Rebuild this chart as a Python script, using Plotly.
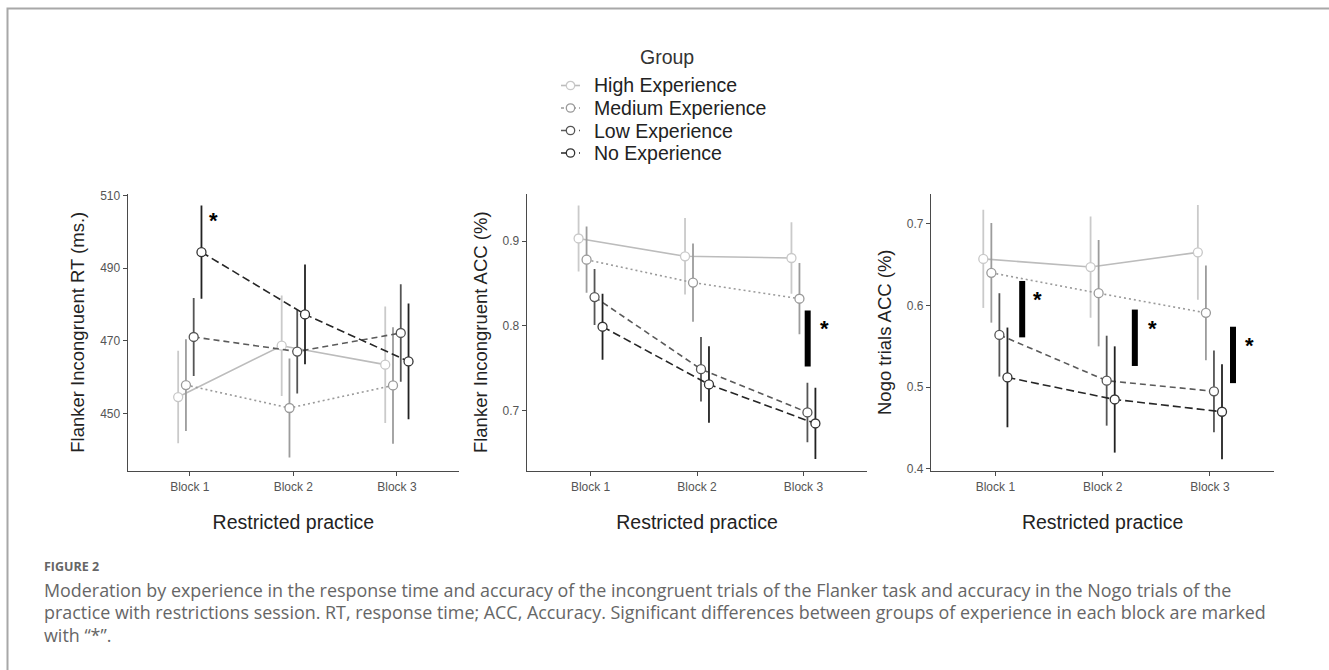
import plotly.graph_objects as go

W, H = 1329, 670

groups = ["High Experience", "Medium Experience", "Low Experience", "No Experience"]
legend_title = "Group"
blocks = ["Block 1", "Block 2", "Block 3"]
block_pos = [1, 2, 3]

# Panel 1: Flanker Incongruent RT (ms.)
rt_high = [454.6, 468.7, 463.5]
rt_med = [457.9, 451.6, 457.8]
rt_low = [471.1, 467.1, 472.2]
rt_no = [494.4, 477.3, 464.4]
rt_high_err = [12.7, 13.8, 16.0]
rt_med_err = [12.6, 13.6, 16.0]
rt_low_err = [10.7, 11.5, 13.4]
rt_no_err = [12.8, 13.7, 15.9]

# Panel 2: Flanker Incongruent ACC (%)
acc_high = [0.903, 0.882, 0.880]
acc_med = [0.878, 0.851, 0.832]
acc_low = [0.834, 0.749, 0.698]
acc_no = [0.799, 0.731, 0.685]
acc_high_err = [0.039, 0.045, 0.042]
acc_med_err = [0.039, 0.046, 0.042]
acc_low_err = [0.033, 0.038, 0.035]
acc_no_err = [0.039, 0.045, 0.042]

# Panel 3: Nogo trials ACC (%)
nogo_high = [0.657, 0.647, 0.665]
nogo_med = [0.640, 0.615, 0.591]
nogo_low = [0.564, 0.508, 0.495]
nogo_no = [0.512, 0.485, 0.470]
nogo_high_err = [0.060, 0.062, 0.058]
nogo_med_err = [0.061, 0.065, 0.058]
nogo_low_err = [0.051, 0.055, 0.050]
nogo_no_err = [0.061, 0.065, 0.058]

# significance bars (x, y_low, y_high) and asterisks (x, y)
sig_p2_x = [3.04]
sig_p2_lo = [0.752]
sig_p2_hi = [0.818]
star_p2_x = [3.2]
star_p2_y = [0.800]

sig_p3_x = [1.25, 2.30, 3.215]
sig_p3_lo = [0.561, 0.526, 0.505]
sig_p3_hi = [0.630, 0.595, 0.574]
star_p3_x = [1.39, 2.46, 3.365]
star_p3_y = [0.611, 0.576, 0.555]

star_p1_x = [1.226]
star_p1_y = [503.9]

panel_titles = ["Flanker Incongruent RT (ms.)", "Flanker Incongruent ACC (%)", "Nogo trials ACC (%)"]
x_title = "Restricted practice"

caption_head = "FIGURE 2"
caption_lines = [
    "Moderation by experience in the response time and accuracy of the incongruent trials of the Flanker task and accuracy in the Nogo trials of the",
    "practice with restrictions session. RT, response time; ACC, Accuracy. Significant differences between groups of experience in each block are marked",
    "with \u201c*\u201d.",
]

# styles
dodge = [-0.1125, -0.0375, 0.0375, 0.1125]
line_colors = ["#bcbcbc", "#9a9a9a", "#5a5a5a", "#262626"]
err_colors = ["#cacaca", "#9c9c9c", "#555555", "#222222"]
mark_colors = ["#c8c8c8", "#9a9a9a", "#555555", "#333333"]
dashes = ["solid", "2px,3px", "6px,4px", "8px,4px"]

panels = [
    ([rt_high, rt_med, rt_low, rt_no], [rt_high_err, rt_med_err, rt_low_err, rt_no_err]),
    ([acc_high, acc_med, acc_low, acc_no], [acc_high_err, acc_med_err, acc_low_err, acc_no_err]),
    ([nogo_high, nogo_med, nogo_low, nogo_no], [nogo_high_err, nogo_med_err, nogo_low_err, nogo_no_err]),
]

x_domains = [[127.7 / W, 459 / W], [526.7 / W, 867.3 / W], [931 / W, 1274.3 / W]]
y_domain = [1 - 471 / H, 1 - 193.5 / H]
y_ranges = [[434.3, 510.5], [0.629, 0.956], [0.3975, 0.737]]
y_ticks = [[450, 470, 490, 510], [0.7, 0.8, 0.9], [0.4, 0.5, 0.6, 0.7]]
y_ticktext = [["450", "470", "490", "510"], ["0.7", "0.8", "0.9"], ["0.4", "0.5", "0.6", "0.7"]]

fig = go.Figure()

for p, (vals, errs) in enumerate(panels):
    xa = "x" if p == 0 else f"x{p+1}"
    ya = "y" if p == 0 else f"y{p+1}"
    for g in range(4):
        xs = [b + dodge[g] for b in block_pos]
        fig.add_trace(go.Scatter(
            x=xs, y=vals[g], xaxis=xa, yaxis=ya,
            mode="lines+markers",
            name=groups[g], showlegend=False,
            line=dict(color=line_colors[g], width=1.6, dash=dashes[g]),
            marker=dict(size=9, color="white", line=dict(color=mark_colors[g], width=1.3)),
            error_y=dict(type="data", array=errs[g], visible=True, color=err_colors[g],
                         thickness=1.8, width=0),
        ))

def add_sig(xs, lo, hi, xa, ya):
    for i in range(len(xs)):
        fig.add_trace(go.Scatter(
            x=[xs[i], xs[i]], y=[lo[i], hi[i]], xaxis=xa, yaxis=ya,
            mode="lines", line=dict(color="black", width=6), showlegend=False,
            hoverinfo="skip"))

add_sig(sig_p2_x, sig_p2_lo, sig_p2_hi, "x2", "y2")
add_sig(sig_p3_x, sig_p3_lo, sig_p3_hi, "x3", "y3")

annotations = []
for xs, ys, xr, yr in [(star_p1_x, star_p1_y, "x", "y"), (star_p2_x, star_p2_y, "x2", "y2"),
                       (star_p3_x, star_p3_y, "x3", "y3")]:
    for x, y in zip(xs, ys):
        annotations.append(dict(x=x, y=y, xref=xr, yref=yr, text="<b>*</b>", showarrow=False,
                                font=dict(size=22, color="black", family="Arial"),
                                yshift=-3))

# caption
annotations.append(dict(x=42 / W, y=1 - 566 / H, xref="paper", yref="paper", xanchor="left",
                        yanchor="middle", text="<b>" + caption_head + "</b>", showarrow=False,
                        font=dict(size=12.5, color="#666666", family="Open Sans")))
for i, line in enumerate(caption_lines):
    annotations.append(dict(x=42 / W, y=1 - (589.5 + 22.6 * i) / H, xref="paper", yref="paper",
                            xanchor="left", yanchor="middle", text=line, showarrow=False,
                            font=dict(size=17.9, color="#666666", family="Open Sans")))

# legend (title, keys and labels)
shapes = [dict(type="path", xref="paper", yref="paper",
               path=f"M {7.5/W},0 L {7.5/W},{1-8.5/H} L 1,{1-8.5/H}",
               line=dict(color="#a8a8a8", width=2))]

annotations.append(dict(x=666.5 / W, y=1 - 57 / H, xref="paper", yref="paper", xanchor="center",
                        yanchor="middle", text=legend_title, showarrow=False,
                        font=dict(size=19.5, color="#333333", family="Arial")))
leg_y0, leg_dy = 85.5, 22.5
key_x0, key_x1, key_cx, key_r = 561, 580, 570.5, 4.2
for g in range(4):
    yc = leg_y0 + leg_dy * g
    annotations.append(dict(x=592 / W, y=1 - yc / H, xref="paper", yref="paper", xanchor="left",
                            yanchor="middle", text=groups[g], showarrow=False,
                            font=dict(size=19.5, color="#222222", family="Arial")))
    shapes.append(dict(type="line", xref="paper", yref="paper",
                       x0=key_x0 / W, x1=key_x1 / W, y0=1 - yc / H, y1=1 - yc / H,
                       line=dict(color=line_colors[g], width=1.6,
                                 dash="solid" if g == 0 else ("dot" if g == 1 else "dash"))))
    shapes.append(dict(type="circle", xref="paper", yref="paper",
                       x0=(key_cx - key_r) / W, x1=(key_cx + key_r) / W,
                       y0=1 - (yc + key_r) / H, y1=1 - (yc - key_r) / H,
                       fillcolor="white", line=dict(color=mark_colors[g], width=1.3)))

layout = dict(
    width=W, height=H,
    paper_bgcolor="white", plot_bgcolor="white",
    margin=dict(l=0, r=0, t=0, b=0, autoexpand=False),
    font=dict(family="Arial", color="#333333"),
    showlegend=False,
    annotations=annotations,
    shapes=shapes,
)

for p in range(3):
    sx = "" if p == 0 else str(p + 1)
    layout[f"xaxis{sx}"] = dict(
        domain=x_domains[p], range=[0.4, 3.6], anchor=f"y{sx}",
        tickvals=block_pos, ticktext=blocks, showgrid=False, zeroline=False,
        showline=True, linecolor="#4a4a4a", linewidth=1.2,
        ticks="outside", ticklen=4, tickcolor="#4a4a4a",
        tickfont=dict(size=12, color="#555555"),
        title=dict(text=x_title, font=dict(size=19.5, color="#222222"), standoff=22),
    )
    layout[f"yaxis{sx}"] = dict(
        domain=y_domain, range=y_ranges[p], anchor=f"x{sx}",
        tickvals=y_ticks[p], ticktext=y_ticktext[p], showgrid=False, zeroline=False,
        showline=True, linecolor="#4a4a4a", linewidth=1.2,
        ticks="outside", ticklen=4, tickcolor="#4a4a4a",
        tickfont=dict(size=12, color="#555555"),
        title=dict(text=panel_titles[p], font=dict(size=18.5, color="#222222"), standoff=10),
    )

fig.update_layout(**layout)
fig.write_html("out.html", config={"displayModeBar": False},
               post_script="document.body.style.margin='0';document.body.style.overflow='hidden';")
